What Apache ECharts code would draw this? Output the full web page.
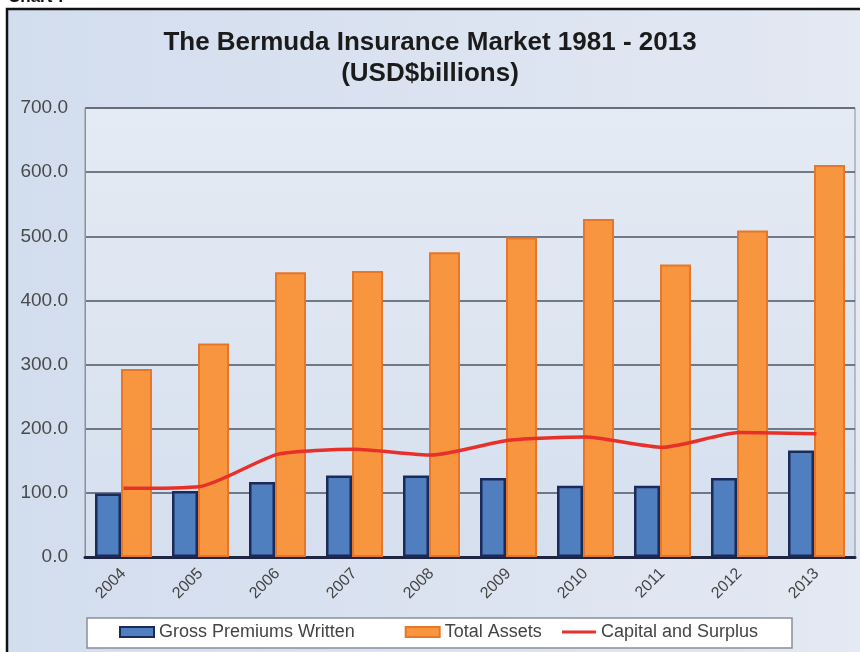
<!DOCTYPE html>
<html>
<head>
<meta charset="utf-8">
<script src="https://cdn.jsdelivr.net/npm/echarts@6/dist/echarts.min.js"></script>
<style>
html,body{margin:0;padding:0;background:#fff;}
#chart{width:860px;height:652px;}
</style>
</head>
<body>
<div id="chart"></div>
<script>
const categories = ['2004','2005','2006','2007','2008','2009','2010','2011','2012','2013'];
const grossPremiums = [99, 103, 117, 127, 127, 123, 111, 111, 123, 166];
const totalAssets = [293, 333, 444, 446, 475, 498, 527, 456, 509, 611];
const capitalSurplus = [107, 110, 160, 168, 159, 182, 187, 171, 194, 192];
const yTicks = {min: 0, max: 700, interval: 100};

const chart = echarts.init(document.getElementById('chart'), null, {renderer: 'canvas'});
const FONT = 'Liberation Sans, Arial, sans-serif';
const legendText = {fontFamily: FONT, fontSize: 18, color: '#444'};

chart.setOption({
  backgroundColor: '#ffffff',
  animation: false,
  graphic: [
    {
      type: 'rect', z: -10, silent: true,
      shape: {x: 7, y: 9, width: 860, height: 650},
      style: {
        fill: new echarts.graphic.LinearGradient(0, 0, 1, 0, [
          {offset: 0, color: '#d2ddee'},
          {offset: 1, color: '#e4e9f3'}
        ]),
        stroke: '#111', lineWidth: 2.5
      }
    },
    {
      type: 'rect', z: 0, silent: true,
      shape: {x: 87, y: 618, width: 705, height: 30},
      style: {fill: '#ffffff', stroke: '#8a8f99', lineWidth: 1.5}
    },
    {
      type: 'text', z: 10, silent: true,
      left: 8, top: -11,
      style: {text: 'Chart 7', font: 'bold 17px ' + FONT, fill: '#111'}
    }
  ],
  title: {
    text: 'The Bermuda Insurance Market 1981 - 2013\n(USD$billions)',
    left: 'center',
    top: 22,
    textStyle: {fontFamily: FONT, fontSize: 26, fontWeight: 'bold', color: '#1b1b1b', lineHeight: 31}
  },
  legend: [
    {
      left: 119, top: 623, padding: 0,
      itemGap: 50,
      itemWidth: 34, itemHeight: 10,
      textStyle: legendText,
      data: [
        {name: 'Gross Premiums Written', icon: 'rect'},
        {name: 'Total Assets', icon: 'rect'}
      ]
    },
    {
      left: 562, top: 623, padding: 0,
      itemWidth: 34, itemHeight: 3,
      textStyle: legendText,
      data: [{name: 'Capital and Surplus', icon: 'rect'}]
    }
  ],
  grid: {
    left: 85, right: 5, top: 108, bottom: 95,
    show: true,
    borderColor: '#8a909c', borderWidth: 1,
    backgroundColor: new echarts.graphic.LinearGradient(0, 0, 0, 1, [
      {offset: 0, color: '#e5ebf4'},
      {offset: 1, color: '#d5dfee'}
    ])
  },
  xAxis: {
    type: 'category',
    data: categories,
    axisLine: {show: true, lineStyle: {color: '#1d2540', width: 3}},
    axisTick: {show: false},
    axisLabel: {rotate: 45, fontFamily: FONT, fontSize: 16, color: '#444', margin: 14, interval: 0}
  },
  yAxis: {
    type: 'value',
    min: yTicks.min, max: yTicks.max, interval: yTicks.interval,
    axisLine: {show: true, lineStyle: {color: '#8a909c', width: 1}},
    axisTick: {show: false},
    axisLabel: {fontFamily: FONT, fontSize: 19, color: '#4a4a4a', margin: 17,
      formatter: v => v.toFixed(1)},
    splitLine: {show: true, lineStyle: {color: '#4d5566', width: 1.5}}
  },
  series: [
    {
      name: 'Gross Premiums Written',
      type: 'bar',
      data: grossPremiums,
      barWidth: 26,
      barGap: '0%',
      itemStyle: {color: '#4f7fbf', borderColor: '#1c2a5a', borderWidth: 2.5}
    },
    {
      name: 'Total Assets',
      type: 'bar',
      data: totalAssets,
      barWidth: 31,
      barGap: '0%',
      itemStyle: {color: '#f7963f', borderColor: '#e8762a', borderWidth: 2}
    },
    {
      name: 'Capital and Surplus',
      type: 'line',
      data: capitalSurplus,
      smooth: 0.2,
      symbol: 'none',
      z: 5,
      lineStyle: {color: '#e8302a', width: 3.5},
      itemStyle: {color: '#e8302a'}
    }
  ]
});
</script>
</body>
</html>
